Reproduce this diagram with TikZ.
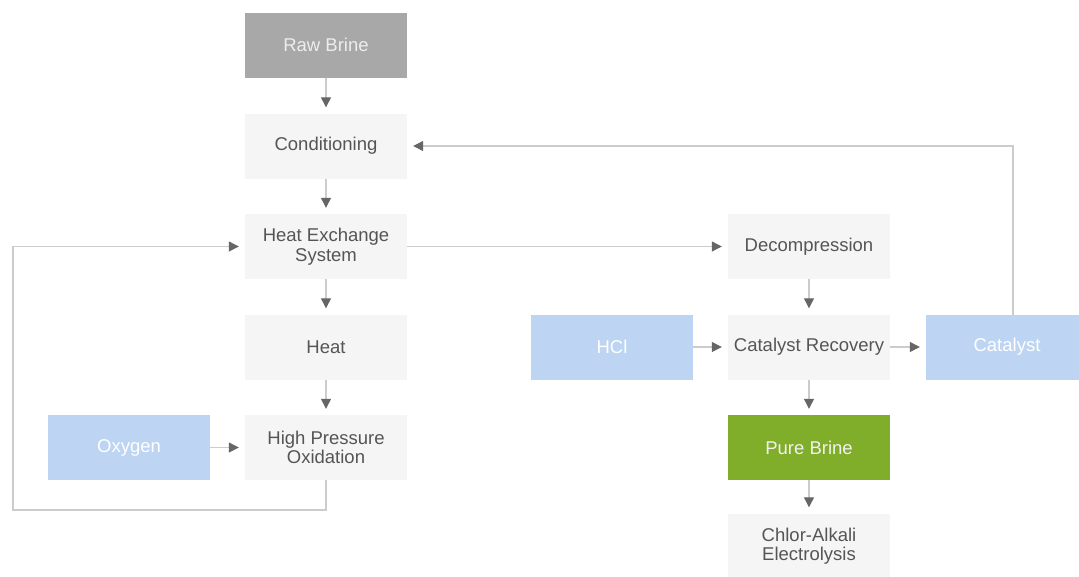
\documentclass[tikz,border=0pt]{standalone}
\usepackage{fontspec}
\setmainfont{Liberation Sans}
\usetikzlibrary{arrows.meta}
\definecolor{boxgray}{HTML}{A8A8A8}
\definecolor{boxlight}{HTML}{F5F5F5}
\definecolor{boxblue}{HTML}{BDD5F2}
\definecolor{boxgreen}{HTML}{80AD2A}
\definecolor{txtdark}{HTML}{555555}
\definecolor{linegray}{HTML}{CCCCCC}
\definecolor{headgray}{HTML}{666666}
\tikzset{
  base/.style={minimum width=162pt, minimum height=65pt, inner sep=0pt, align=center,
    font=\fontsize{18.5}{19.5}\selectfont},
  plain/.style={base, fill=boxlight, text=txtdark},
  grey/.style={base, fill=boxgray, text=white!93!black},
  blue/.style={base, fill=boxblue, text=white},
  green/.style={base, fill=boxgreen, text=white!95!black},
  conn/.style={draw=linegray, line width=1.2pt, shorten >=6pt,
    -{Triangle[length=10pt,width=10pt,color=headgray]}},
  link/.style={draw=linegray, line width=1.2pt}
}
\begin{document}
\begin{tikzpicture}[x=1pt,y=-1pt]
\useasboundingbox (0,0) rectangle (1079,576);
\begin{scope}
\clip (0,0) rectangle (1079,576);
\node[grey]  (raw)  at (326,45)    {Raw Brine};
\node[plain] (cond) at (326,146)   {Conditioning};
\node[plain] (hes)  at (326,246.5) {Heat Exchange\\System};
\node[plain] (heat) at (326,347)   {Heat};
\node[plain] (hpo)  at (326,447.5) {High Pressure\\Oxidation};
\node[blue]  (oxy)  at (129,447.5) {Oxygen};
\node[plain] (dec)  at (809,246.5) {Decompression};
\node[blue]  (hcl)  at (612,347)   {HCl};
\node[plain] (cr)   at (809,347)   {Catalyst Recovery};
\node[blue]  (cat)  at (1007,347)  {Catalyst};
\node[green] (pb)   at (809,447.5) {Pure Brine};
\node[plain] (cae)  at (809,546) {Chlor-Alkali\\Electrolysis};
\end{scope}
\coordinate (lb) at (13,510);
\coordinate (ct) at (1013,315);

\draw[conn] (raw) -- (cond);
\draw[conn] (cond) -- (hes);
\draw[conn] (hes) -- (heat);
\draw[conn] (heat) -- (hpo);
\draw[conn] (oxy) -- (hpo);
\draw[conn] (hpo.south) |- (lb) |- (hes.west);
\draw[conn] (hes.east) -- (dec.west);
\draw[conn] (dec) -- (cr);
\draw[conn] (hcl) -- (cr);
\draw[conn] (cr) -- (cat);
\draw[conn] (cr) -- (pb);
\draw[conn] (pb) -- (cae);
\draw[conn] (ct) |- (cond.east);
\end{tikzpicture}
\end{document}
